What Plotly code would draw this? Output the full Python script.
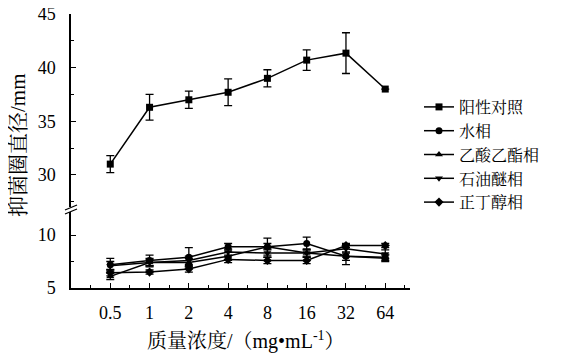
import plotly.graph_objects as go

# ---- data ----
categories = ["0.5", "1", "2", "4", "8", "16", "32", "64"]
series_names = ["阳性对照", "水相", "乙酸乙酯相", "石油醚相", "正丁醇相"]

positive = [31.0, 36.3, 37.0, 37.7, 39.0, 40.7, 41.35, 38.0]
positive_err = [0.8, 1.2, 0.8, 1.25, 0.8, 0.95, 1.9, 0.0]

water = [7.2, 7.6, 7.9, 8.9, 8.9, 9.2, 8.0, 7.9]
water_err = [0.6, 0.5, 0.9, 0.3, 0.8, 0.6, 0.8, 0.3]
ethyl = [6.1, 7.4, 7.4, 8.0, 8.9, 8.3, 8.0, 7.8]
ethyl_err = [0.3, 0.3, 0.4, 0.4, 0.3, 0.4, 0.4, 0.3]
petrol = [7.1, 7.4, 7.6, 8.4, 8.3, 8.3, 8.7, 8.2]
petrol_err = [0.4, 0.4, 0.4, 0.3, 0.4, 0.3, 0.4, 0.4]
butanol = [6.45, 6.5, 6.8, 7.7, 7.6, 7.6, 9.0, 9.0]
butanol_err = [0.3, 0.2, 0.3, 0.3, 0.3, 0.3, 0.2, 0.2]

upper_ticks = [30, 35, 40, 45]
lower_ticks = [5, 10]

FONT = "'Times New Roman', 'Liberation Serif', 'Noto Serif CJK SC', 'Noto Sans CJK SC', serif"
xs = list(range(len(categories)))

fig = go.Figure()

def add(name, ys, err, symbol, yaxis):
    fig.add_trace(go.Scatter(
        x=xs, y=ys, name=name, mode="lines+markers", yaxis=yaxis,
        line=dict(color="black", width=1.5),
        marker=dict(symbol=symbol, size=7, color="black"),
        error_y=dict(type="data", array=err, visible=True, color="black",
                     thickness=1.3, width=4),
    ))

add(series_names[0], positive, positive_err, "square", "y2")
add(series_names[1], water, water_err, "circle", "y")
add(series_names[2], ethyl, ethyl_err, "triangle-up", "y")
add(series_names[3], petrol, petrol_err, "triangle-down", "y")
add(series_names[4], butanol, butanol_err, "diamond", "y")

# page offset (default body margin of the html page)
OFF = 8
W, H = 570 - OFF, 358 - OFF
PL, PR, PT, PB = 71, 410, 14, 288          # plot box in page pixels
L, T = PL - OFF, PT - OFF
R, B = W - (PR - OFF), H - (PB - OFF)
PW, PH = PR - PL, PB - PT

def px_x(p):   # page pixel -> paper
    return (p - PL) / PW

def px_y(p):
    return (PB - p) / PH

axis_common = dict(showline=True, linecolor="black", linewidth=1.5,
                   ticks="inside", tickcolor="black", tickwidth=1.3,
                   showgrid=False, zeroline=False, automargin=False,
                   ticklabeloverflow="allow",
                   tickfont=dict(family=FONT, size=18, color="black"))

fig.update_layout(
    width=W, height=H,
    margin=dict(l=L, r=R, t=T, b=B, autoexpand=False),
    paper_bgcolor="white", plot_bgcolor="white",
    font=dict(family=FONT, color="black"),
    showlegend=True,
    legend=dict(x=px_x(419), y=px_y(90), xanchor="left", yanchor="top",
                font=dict(family=FONT, size=16, color="black"),
                bgcolor="rgba(0,0,0,0)", tracegroupgap=0),
    xaxis=dict(range=[-1, 7.63], tickvals=xs, ticktext=categories,
               ticklen=5, ticklabelstandoff=8,
               minor=dict(ticks="inside", ticklen=3, dtick=0.5, tick0=0,
                          tickcolor="black", tickwidth=1.3),
               **axis_common),
    yaxis=dict(domain=[0, px_y(212)], range=[5, 10 + (235 - 212) / 10.6],
               tickvals=lower_ticks, ticklen=5, ticklabelstandoff=10,
               minor=dict(ticks="inside", ticklen=3, dtick=2.5, tick0=0,
                          tickcolor="black", tickwidth=1.3),
               anchor="x", **axis_common),
    yaxis2=dict(domain=[px_y(207), 1], range=[27.0, 45.001],
                tickvals=upper_ticks, ticklen=5, ticklabelstandoff=10,
                minor=dict(ticks="inside", ticklen=3, dtick=2.5, tick0=0,
                           tickcolor="black", tickwidth=1.3),
                anchor="x", **axis_common),
    annotations=[
        dict(text="质量浓度/（mg•mL<sup>-1</sup>）", xref="paper", yref="paper",
             x=px_x(246), y=px_y(340), xanchor="center", yanchor="middle",
             showarrow=False, font=dict(family=FONT, size=20, color="black")),
        dict(text="抑菌圈直径/mm", xref="paper", yref="paper",
             x=px_x(18), y=px_y(145), xanchor="center", yanchor="middle",
             textangle=-90, showarrow=False,
             font=dict(family=FONT, size=21, color="black")),
    ],
    shapes=[
        dict(type="line", xref="paper", yref="paper",
             x0=px_x(65), y0=px_y(214), x1=px_x(77), y1=px_y(209),
             line=dict(color="black", width=1.3)),
        dict(type="line", xref="paper", yref="paper",
             x0=px_x(65), y0=px_y(210), x1=px_x(77), y1=px_y(205),
             line=dict(color="black", width=1.3)),
    ],
)

fig.write_html("out.html")
